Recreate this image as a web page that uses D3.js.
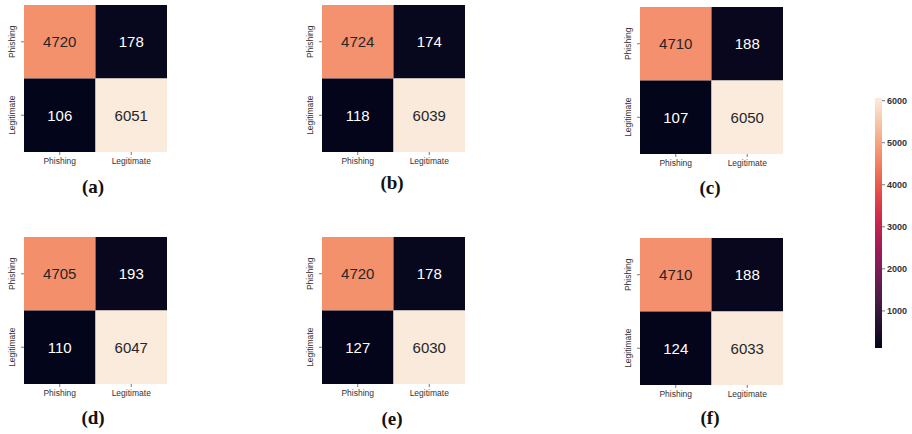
<!DOCTYPE html>
<html>
<head>
<meta charset="utf-8">
<script src="https://cdn.jsdelivr.net/npm/d3@7"></script>
<style>
  html, body { margin: 0; padding: 0; background: #fff; }
  svg { display: block; }
</style>
</head>
<body>
<svg id="chart" width="912" height="434"></svg>
<script>
// ---- data ----
const classes = ["Phishing", "Legitimate"];
const panelLabels = ["(a)", "(b)", "(c)", "(d)", "(e)", "(f)"];
const matrixA = [[4720, 178], [106, 6051]];
const matrixB = [[4724, 174], [118, 6039]];
const matrixC = [[4710, 188], [107, 6050]];
const matrixD = [[4705, 193], [110, 6047]];
const matrixE = [[4720, 178], [127, 6030]];
const matrixF = [[4710, 188], [124, 6033]];
const matrices = [matrixA, matrixB, matrixC, matrixD, matrixE, matrixF];
const colorbarTicks = [1000, 2000, 3000, 4000, 5000, 6000];
const colorDomain = [106, 6051];
// seaborn "rocket" colormap stops
const rocketStops = ["#03051a", "#35193e", "#701f57", "#ad1759", "#e13342", "#f37651", "#f6b48f", "#faebdd"];

// ---- layout ----
const panelPos = [
  {x: 24, y: 5, lx: 93, ly: 193},
  {x: 322, y: 5, lx: 392, ly: 189},
  {x: 640, y: 7, lx: 710, ly: 194},
  {x: 24, y: 237, lx: 93, ly: 424},
  {x: 322, y: 237, lx: 392, ly: 425},
  {x: 640, y: 238, lx: 710, ly: 424}
];
const W = 143, H = 147;

const svg = d3.select("#chart");
const rocket = d3.interpolateRgbBasis(rocketStops);
const norm = d3.scaleLinear().domain(colorDomain).range([0, 1]).clamp(true);
const color = v => rocket(norm(v));

const x = d3.scaleBand().domain(classes).range([0, W]);
const y = d3.scaleBand().domain(classes).range([0, H]);

matrices.forEach((m, i) => {
  const p = panelPos[i];
  const g = svg.append("g").attr("transform", `translate(${p.x},${p.y})`);
  const cells = [];
  m.forEach((row, r) => row.forEach((v, c) => cells.push({r: classes[r], c: classes[c], v})));

  g.selectAll("rect").data(cells).join("rect")
    .attr("x", d => x(d.c)).attr("y", d => y(d.r))
    .attr("width", x.bandwidth()).attr("height", y.bandwidth())
    .attr("fill", d => color(d.v));

  g.selectAll("text.ann").data(cells).join("text")
    .attr("class", "ann")
    .attr("x", d => x(d.c) + x.bandwidth() / 2)
    .attr("y", d => y(d.r) + y.bandwidth() / 2)
    .attr("text-anchor", "middle").attr("dy", "0.36em")
    .attr("font-family", "Liberation Sans, Arial, sans-serif")
    .attr("font-size", 15)
    .attr("fill", d => d3.hsl(color(d.v)).l > 0.5 ? "#262626" : "#ffffff")
    .text(d => d.v);

  const xa = g.append("g").attr("transform", `translate(0,${H})`)
    .call(d3.axisBottom(x).tickSize(3).tickPadding(3));
  const ya = g.append("g")
    .call(d3.axisLeft(y).tickSize(3).tickPadding(3));
  [xa, ya].forEach(a => {
    a.select(".domain").remove();
    a.selectAll("line").attr("stroke", "#555").attr("stroke-width", 0.8);
    a.selectAll("text").attr("font-family", "Liberation Sans, Arial, sans-serif")
      .attr("font-size", 8.5).attr("fill", "#333");
  });
  ya.selectAll("text")
    .attr("transform", "rotate(-90)")
    .attr("x", 0).attr("y", -9)
    .attr("dy", "0")
    .attr("text-anchor", "middle");

  svg.append("text")
    .attr("x", p.lx).attr("y", p.ly)
    .attr("text-anchor", "middle")
    .attr("font-family", "Liberation Serif, Times New Roman, serif")
    .attr("font-size", 19)
    .attr("font-weight", "bold")
    .attr("fill", "#111")
    .text(panelLabels[i]);
});

// ---- colorbar ----
const cbX = 875, cbTop = 98, cbBot = 348, cbW = 7;
const cbScale = d3.scaleLinear().domain(colorDomain).range([cbBot, cbTop]);
const defs = svg.append("defs");
const grad = defs.append("linearGradient").attr("id", "cbgrad")
  .attr("x1", 0).attr("y1", 1).attr("x2", 0).attr("y2", 0);
d3.range(0, 1.0001, 0.05).forEach(t => {
  grad.append("stop").attr("offset", t).attr("stop-color", rocket(t));
});
svg.append("rect").attr("x", cbX).attr("y", cbTop)
  .attr("width", cbW).attr("height", cbBot - cbTop)
  .attr("fill", "url(#cbgrad)");
const cba = svg.append("g").attr("transform", `translate(${cbX + cbW},0)`)
  .call(d3.axisRight(cbScale).tickValues(colorbarTicks).tickFormat(d3.format("d"))
    .tickSize(3).tickPadding(2));
cba.select(".domain").remove();
cba.selectAll("line").attr("stroke", "#555").attr("stroke-width", 0.8);
cba.selectAll("text").attr("font-family", "Liberation Sans, Arial, sans-serif")
  .attr("font-size", 9).attr("font-weight", "bold").attr("fill", "#333");
</script>
</body>
</html>
